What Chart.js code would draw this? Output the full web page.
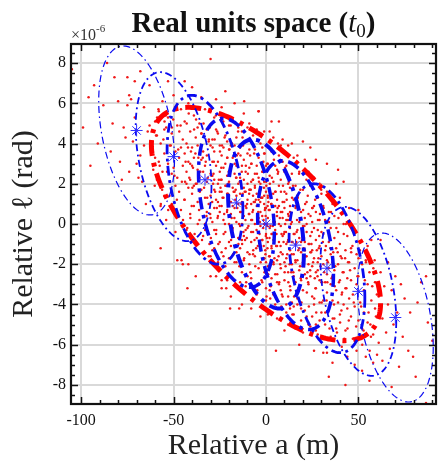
<!DOCTYPE html>
<html>
<head>
<meta charset="utf-8">
<script src="https://cdn.jsdelivr.net/npm/chart.js@4.4.1/dist/chart.umd.min.js"></script>
<style>
  html, body { margin: 0; padding: 0; background: #fff; }
  canvas { display: block; }
</style>
</head>
<body>
<canvas id="spaceChart" width="443" height="464"></canvas>
<script>
// tick labels
const aTicks = [-100, -50, 0, 50];
const lTicks = [-8, -6, -4, -2, 0, 2, 4, 6, 8];

// centres of the sub-ellipses (a in m, l in 1e-6 rad)
const centreA = [-70, -50, -33, -16, 0, 16, 33, 50, 70];
const centreL = [4.65, 3.35, 2.2, 1.05, 0, -1.05, -2.2, -3.35, -4.65];
// half extents and correlation of each sub-ellipse
const subHalfA = [20.5, 20.5, 20.5, 20.5, 20.5, 20.5, 20.5, 20.5, 20.5];
const subHalfL = [4.2, 4.2, 4.2, 4.2, 4.2, 4.2, 4.2, 4.2, 4.2];
const subRho = [-0.35, -0.35, -0.35, -0.35, -0.35, -0.35, -0.35, -0.35, -0.35];

// full uncertainty ellipse
const fullHalfA = 62;
const fullHalfL = 5.8;
const fullRho = -0.68;

// sampled particles [a, l], outer parts of the cloud
const particles = [
  [-105,7.7],[-99,4.8],[-96,6.3],[-93,6.9],[-95,2.9],[-91,4.0],
  [-88,5.9],[-86,8.0],[-84,3.6],[-82,7.3],[-80,6.1],[-77,4.8],[-76,4.3],[-78,2.2],[-75,7.3],[-83,5.0],[-79,3.1],[-75,5.9],
  [-74,6.4],[-73,6.2],[-72,4.1],[-71,5.3],[-70,3.0],[-69,2.3],[-68,3.4],[-67,2.1],[-66,5.8],[-65,1.0],[-64,4.6],[-63,6.9],
  [-62,3.8],[-61,2.7],[-60,5.1],[-71,7.1],[-66,3.9],[-63,4.9],[-74,2.6],[-68,7.6],
  [-59,4.4],[-59,2.2],[-58,5.6],[-58,3.1],[-57,0.9],[-57,4.0],[-56,6.1],[-56,2.6],[-55,3.5],[-55,1.4],[-54,4.8],[-54,0.2],
  [-53,3.0],[-53,5.3],[-52,2.1],[-52,3.9],[-51,1.0],[-51,4.5],[-50,2.8],[-50,6.4],[-49,3.6],[-49,-0.4],[-48,2.3],[-48,4.9],
  [-47,1.6],[-47,3.3],[-46,5.7],[-46,0.7],[-45,2.9],[-45,4.2],[-60,3.3],[-57,-1.2],[-53,7.1],[-48,-1.8],[-46,3.8],[-51,2.5],
  [-55,4.7],[-49,1.9],[-45.7,-1.8],[-45,-2.0],[-42.5,-3.2],
  [-44,3.5],[-44,1.2],[-44,5.1],[-43,2.6],[-43,-0.3],[-43,4.0],[-42,3.1],[-42,1.8],[-42,6.0],[-41,2.2],[-41,4.6],[-41,0.5],
  [-40,3.8],[-40,1.5],[-40,2.9],[-39,5.4],[-39,0.9],[-39,3.3],[-38,2.0],[-38,4.3],[-38,-1.0],[-37,2.7],[-37,1.1],[-37,3.9],
  [-36,5.0],[-36,2.3],[-36,0.2],[-35,3.2],[-35,1.7],[-35,4.5],[-34,2.6],[-34,-0.6],[-34,3.6],[-33,1.3],[-33,5.7],[-33,2.9],
  [-32,0.6],[-32,3.4],[-32,2.1],[-31,4.1],[-31,1.0],[-31,-1.6],[-30,2.5],[-30,3.9],[-30,0.3],[-44,7.1],[-40,6.8],[-30,8.2],
  [-38,-2.6],[-42,-2.0],[-35,6.3],[-30,5.6],[-43,2.0],[-37,4.8],[-33,0.0],[-41,3.0],[-39,1.9],[-36,3.5],[-32,4.7],[-30,1.4],
  [-29,2.4],[-29,0.1],[-29,4.2],[-29,-1.3],[-28,1.7],[-28,3.6],[-28,5.3],[-28,0.8],[-27,2.9],[-27,-0.5],[-27,1.2],[-27,4.7],
  [-26,2.0],[-26,3.1],[-26,-2.2],[-26,0.4],[-25,1.6],[-25,3.9],[-25,2.6],[-25,-0.9],[-24,0.9],[-24,2.2],[-24,5.8],[-24,3.4],
  [-23,1.3],[-23,-1.6],[-23,2.8],[-23,0.2],[-22,4.4],[-22,1.9],[-22,-0.4],[-22,3.0],[-21,0.7],[-21,2.4],[-21,-2.8],[-21,1.5],
  [-20,3.7],[-20,0.0],[-20,2.1],[-20,4.9],[-19,1.1],[-19,-1.1],[-19,2.7],[-19,0.5],[-18,3.3],[-18,1.8],[-18,-0.2],[-18,5.2],
  [-17,0.8],[-17,2.5],[-17,-1.9],[-17,3.9],[-16,1.4],[-16,0.1],[-16,2.9],[-16,4.3],[-15,-0.7],[-15,2.0],[-15,1.0],[-15,3.5],
  [-30,-2.6],[-27,6.2],[-24,-3.2],[-22,6.6],[-19,-3.6],[-17,6.0],[-28,2.2],[-26,1.1],[-25,0.6],[-23,3.8],[-21,3.3],[-20,1.4],
  [-18,0.9],[-16,2.3],[-29,3.1],[-26,4.5],[-20,-0.9],[-17,1.6],[-15,4.8],[-24,1.6],[-21,4.1],[-28,-0.3],[-19,3.9],[-16,-1.4],
  [-27,-2.6],[-24,-2.8],[-21.5,-3.2],[-19.4,-4.2],[-11.8,6.1],
  [-14,0.6],[-14,2.3],[-14,-1.2],[-14,3.8],[-14,1.5],[-13,0.0],[-13,2.9],[-13,-2.4],[-13,1.1],[-13,4.6],[-12,1.8],[-12,-0.6],
  [-12,3.2],[-12,0.4],[-12,-1.8],[-11,2.6],[-11,0.9],[-11,-3.1],[-11,1.6],[-11,4.1],[-10,-0.2],[-10,2.0],[-10,1.2],[-10,-1.4],
  [-10,3.5],[-9,0.5],[-9,2.8],[-9,-2.0],[-9,1.7],[-9,5.0],[-8,-0.9],[-8,1.0],[-8,3.0],[-8,0.2],[-8,-2.7],[-7,2.2],
  [-7,1.4],[-7,-0.4],[-7,4.4],[-7,0.7],[-6,-1.6],[-6,2.5],[-6,0.0],[-6,3.7],[-6,1.9],[-5,-3.5],[-5,0.9],[-5,2.9],
  [-5,-0.7],[-5,1.5],[-4,0.3],[-4,3.3],[-4,-2.2],[-4,1.2],[-4,5.6],[-3,2.0],[-3,-1.1],[-3,0.6],[-3,4.0],[-3,-0.1],
  [-2,1.3],[-2,-2.9],[-2,2.6],[-2,0.4],[-2,-0.8],[-1,3.5],[-1,1.0],[-1,-1.7],[-1,2.1],[-1,0.0],[0,-0.5],[0,1.6],
  [0,-3.8],[0,2.9],[0,0.8],[-12,5.5],[-8,-4.2],[-3,-4.6],[-10,4.8],[-5,4.7],[-14,-2.9],[-1,4.6],[-11,-0.3],[-9,3.7],
  [-7,-1.5],[-6,1.1],[-4,2.3],[-2,3.8],[-13,-0.8],[0,3.9],[-8,2.1],[-3,1.7],[-14.5,-4.2],[-13,-4.0],
  [1,-0.9],[1,1.4],[1,-2.3],[1,0.3],[1,3.0],[2,-1.6],[2,0.7],[2,2.4],[2,-3.3],[2,-0.2],[3,1.0],[3,-1.2],
  [3,3.6],[3,-0.5],[3,-2.7],[4,0.1],[4,2.1],[4,-1.9],[4,-0.8],[4,4.3],[5,-0.3],[5,1.6],[5,-2.5],[5,0.9],
  [5,-4.0],[6,-1.1],[6,2.7],[6,0.4],[6,-1.8],[6,1.2],[7,-3.0],[7,0.0],[7,1.9],[7,-0.9],[7,3.4],[8,-1.4],
  [8,0.6],[8,-2.2],[8,2.2],[8,-0.1],[9,1.1],[9,-3.6],[9,-0.6],[9,0.3],[9,3.1],[10,-1.9],[10,0.8],[10,-0.4],
  [10,2.6],[10,-2.8],[11,-1.0],[11,1.5],[11,-4.4],[11,0.2],[11,-1.7],[12,2.0],[12,-0.8],[12,0.5],[12,-2.4],[12,3.9],
  [13,-1.3],[13,0.9],[13,-3.1],[13,-0.2],[13,1.8],[14,-2.0],[14,0.1],[14,2.5],[14,-0.9],[14,-3.9],[15,-1.5],[15,1.2],
  [15,-0.5],[15,-2.6],[15,3.3],[2,4.6],[6,-4.7],[9,4.2],[12,-5.0],[4,-3.5],[7,5.1],[1,-4.5],[14,4.0],[3,5.1],
  [10,-5.3],[5,2.9],[8,3.9],[11,2.9],[13,-4.2],[0,-1.9],[6,-2.9],[10,1.6],[12,-3.6],[8,-3.3],[-4,5.6],[6.5,4.0],[5.4,-6.3],
  [16,-1.0],[16,0.8],[16,-2.9],[16,1.9],[17,-1.8],[17,-0.3],[17,-3.7],[17,1.4],[18,-0.7],[18,-2.3],[18,2.6],[18,0.1],
  [19,-1.4],[19,-4.2],[19,0.6],[19,-2.8],[20,-0.1],[20,-1.9],[20,1.7],[20,-3.3],[21,-0.9],[21,-2.5],[21,3.2],[21,0.3],
  [22,-1.6],[22,-4.6],[22,-0.4],[22,1.1],[23,-2.0],[23,0.5],[23,-3.0],[23,-1.0],[24,-2.6],[24,1.9],[24,-0.6],[24,-5.1],
  [25,-1.3],[25,0.8],[25,-3.6],[25,-2.1],[26,-0.2],[26,-1.7],[26,2.3],[26,-4.0],[27,-2.4],[27,-0.8],[27,0.6],[27,-3.2],
  [28,-1.9],[28,1.3],[28,-5.5],[28,-0.3],[29,-2.8],[29,-1.1],[29,0.2],[29,-3.9],[30,-1.6],[30,-0.4],[30,-4.4],[30,1.5],
  [21.5,3.1],[27,3.2],[16,-5.2],[18,-6.0],[24,3.8],[20,4.1],[26,-6.3],[17,3.4],[22,-2.7],[25,0.1],[19,-0.9],[23,2.6],
  [28,-2.3],[30,-2.9],[16,-1.9],[18,-1.2],[20,-5.4],[22,0.0],[24,-1.4],[26,0.9],[29,2.0],[21,-1.3],[27,-5.0],[15,-4.1],
  [31,-2.0],[31,-0.5],[31,-3.8],[31,0.9],[32,-2.9],[32,-1.3],[32,-5.0],[32,0.2],[33,-1.8],[33,-3.4],[33,1.6],[33,-2.5],
  [34,-0.9],[34,-4.3],[34,-2.2],[34,0.6],[35,-3.0],[35,-1.5],[35,-5.6],[35,-0.2],[36,-2.6],[36,1.0],[36,-3.8],[36,-1.9],
  [37,-0.7],[37,-4.7],[37,-2.3],[37,0.4],[38,-3.3],[38,-1.2],[38,2.0],[38,-5.2],[39,-2.0],[39,-0.4],[39,-3.9],[40,-2.8],
  [40,-1.0],[40,1.3],[40,-4.5],[41,-3.5],[41,-1.7],[41,-6.1],[42,-2.4],[42,0.0],[42,-4.0],[43,-1.3],[43,-3.2],[43,-5.3],
  [44,-2.7],[44,-0.6],[44,-4.2],[45,-1.9],[45,-3.7],[45,0.8],[33,3.0],[39,2.7],[36,-6.9],[42,2.1],[31,-6.4],[44,-6.6],
  [34,-7.6],[43,-8.0],[33,-6.4],
  [46,-2.8],[46,-4.6],[46,-1.2],[47,-3.5],[47,-0.3],[47,-5.7],[48,-2.2],[48,-4.1],[49,-3.0],[49,-6.3],[49,-1.5],[50,-2.6],
  [50,-4.8],[51,-3.9],[51,-0.9],[52,-2.0],[52,-5.2],[53,-3.3],[53,-4.4],[54,-1.8],[54,-6.6],[55,-3.0],[55,-4.9],[56,-2.4],
  [57,-3.8],[57,-0.8],[58,-5.5],[59,-2.9],[59,-4.2],[60,-3.5],[52,-7.3],[56,-7.8],[48,-7.0],[50,0.7],[55,-1.1],[58,-6.9],
  [56.5,-5.0],
  [61,-3.6],[61,-5.9],[62,-2.4],[63,-4.7],[63,-6.8],[64,-3.1],[65,-5.4],[66,-1.9],[66,-4.0],[67,-6.2],[68,-3.3],[69,-5.0],
  [70,-2.6],[71,-4.4],[72,-7.1],[73,-3.0],[74,-5.6],[75,-3.7],[62,-0.8],[68,-8.1],
  [77,-6.3],[79.6,-6.6],[81,-7.6],[84,-2.9],[86.6,-2.6],[87.6,-4.9],[78,-4.4],[86.6,-8.9],[90,-5.8],[82,-3.9]
];

// denser inner part of the cloud
const particlesCore = [
  [-59.5,4.4],[-60.2,1.9],[-58.9,5.3],[-57.5,2.9],[-58.2,5.7],[-56.9,1.0],[-55.5,4.2],[-56.2,1.7],[-54.9,5.1],
  [-53.5,2.6],[-54.2,5.4],[-52.9,0.7],[-51.5,3.9],[-52.2,1.4],[-50.9,4.8],[-49.5,2.4],[-50.2,5.2],[-48.9,0.5],
  [-47.5,3.7],[-48.2,1.2],[-46.9,4.6],[-45.5,2.1],[-46.2,4.9],[-44.9,0.2],
  [45.5,-2.3],[44.8,-4.8],[46.1,-1.4],[47.5,-3.9],[46.8,-1.1],[48.1,-5.8],[49.5,-2.6],[48.8,-5.1],[50.1,-1.7],
  [51.5,-4.1],[50.8,-1.3],[52.1,-6.0],[53.5,-2.8],[52.8,-5.3],[54.1,-1.9],[55.5,-4.4],[54.8,-1.6],[56.1,-6.3],
  [57.5,-3.1],[56.8,-5.6],[58.1,-2.2],[59.5,-4.6],[58.8,-1.8],[60.1,-6.5],
  [-43.5,3.1],[-44.2,1.2],[-42.9,5.0],[-43.8,2.1],[-42.6,-0.2],[-41.5,2.3],[-42.2,3.8],[-40.9,0.3],[-41.8,5.5],[-40.6,3.6],
  [-39.5,2.8],[-40.2,0.9],[-38.9,4.7],[-39.8,1.8],[-38.6,-0.5],[-37.5,2.0],[-38.2,3.5],[-36.9,0.0],[-37.8,5.2],[-36.6,3.3],
  [-35.5,2.6],[-36.2,0.7],[-34.9,4.5],[-35.8,1.6],[-34.6,-0.8],[-33.5,1.8],[-34.2,3.3],[-32.9,-0.3],[-33.8,5.0],[-32.6,3.1],
  [-31.5,2.3],[-32.2,0.4],[-30.9,4.2],[-31.8,1.3],[-30.6,-1.0],
  [31.5,-2.4],[30.8,-0.9],[32.1,-4.4],[31.2,0.8],[32.4,-1.1],[33.5,-1.9],[32.8,-3.8],[34.1,0.1],[33.2,-2.9],[34.4,-5.2],
  [35.5,-2.7],[34.8,-1.2],[36.1,-4.7],[35.2,0.6],[36.4,-1.4],[37.5,-2.1],[36.8,-4.0],[38.1,-0.2],[37.2,-3.1],[38.4,-5.4],
  [39.5,-2.9],[38.8,-1.4],[40.1,-4.9],[39.2,0.3],[40.4,-1.6],[41.5,-2.4],[40.8,-4.3],[42.1,-0.5],[41.2,-3.4],[42.4,-5.7],
  [43.5,-3.2],[42.8,-1.7],[44.1,-5.2],[43.2,0.0],[44.4,-1.9],
  [-29.5,2.4],[-30.2,0.5],[-28.9,3.8],[-29.8,-0.7],[-28.6,2.0],[-30.4,4.8],[-29.1,1.1],[-30.0,-1.6],
  [-27.5,1.6],[-28.2,3.1],[-26.9,-0.3],[-27.8,4.2],[-26.6,0.8],[-28.4,2.5],[-27.1,5.4],[-28.0,-1.2],
  [-25.5,2.2],[-26.2,0.3],[-24.9,3.6],[-25.8,-1.0],[-24.6,1.8],[-26.4,4.6],[-25.1,0.9],[-26.0,-1.9],
  [-23.5,1.3],[-24.2,2.8],[-22.9,-0.5],[-23.8,3.9],[-22.6,0.5],[-24.4,2.2],[-23.1,5.1],[-24.0,-1.4],
  [-21.5,1.9],[-22.2,0.0],[-20.9,3.3],[-21.8,-1.2],[-20.6,1.5],[-22.4,4.3],[-21.1,0.6],[-22.0,-2.1],
  [-19.5,1.1],[-20.2,2.6],[-18.9,-0.8],[-19.8,3.7],[-18.6,0.3],[-20.4,2.0],[-19.1,4.9],[-20.0,-1.7],
  [-17.5,1.6],[-18.2,-0.3],[-16.9,3.0],[-17.8,-1.5],[-16.6,1.2],[-18.4,4.0],[-17.1,0.3],[-18.0,-2.4],
  [-15.5,0.8],[-16.2,2.3],[-14.9,-1.0],[-15.8,3.4],[-14.6,0.0],[-16.4,1.7],[-15.1,4.6],[-16.0,-1.9],
  [15.5,-0.5],[14.8,-2.4],[16.1,0.9],[15.2,-3.6],[16.4,-0.9],[14.6,1.9],[15.9,-1.8],[15.0,-4.5],
  [17.5,-1.3],[16.8,0.2],[18.1,-3.1],[17.2,1.3],[18.4,-2.1],[16.6,-0.4],[17.9,2.5],[17.0,-4.0],
  [19.5,-0.8],[18.8,-2.7],[20.1,0.7],[19.2,-3.9],[20.4,-1.2],[18.6,1.7],[19.9,-2.1],[19.0,-4.8],
  [21.5,-1.6],[20.8,-0.1],[22.1,-3.4],[21.2,1.0],[22.4,-2.4],[20.6,-0.7],[21.9,2.2],[21.0,-4.3],
  [23.5,-1.0],[22.8,-2.9],[24.1,0.4],[23.2,-4.1],[24.4,-1.4],[22.6,1.4],[23.9,-2.3],[23.0,-5.0],
  [25.5,-1.9],[24.8,-0.4],[26.1,-3.7],[25.2,0.8],[26.4,-2.7],[24.6,-1.0],[25.9,2.0],[25.0,-4.6],
  [27.5,-1.3],[26.8,-3.2],[28.1,0.2],[27.2,-4.4],[28.4,-1.7],[26.6,1.2],[27.9,-2.6],[27.0,-5.3],
  [29.5,-2.1],[28.8,-0.6],[30.1,-3.9],[29.2,0.5],[30.4,-2.9],[28.6,-1.2],[29.9,1.7],[29.0,-4.8],
  [-13.5,0.6],[-14.2,2.1],[-12.9,-1.0],[-13.8,3.4],[-12.6,1.5],[-14.4,-2.1],[-13.1,2.6],[-14.0,-0.1],[-12.7,4.3],[-13.3,1.0],
  [-11.5,1.6],[-12.2,-0.4],[-10.9,2.9],[-11.8,-1.7],[-10.6,0.8],[-12.4,3.9],[-11.1,0.2],[-12.0,2.2],[-10.7,-2.9],[-11.3,-0.8],
  [-9.5,-0.1],[-10.2,1.0],[-8.9,-1.5],[-9.8,2.5],[-8.6,3.4],[-10.4,-0.7],[-9.1,1.5],[-10.0,-2.6],[-8.7,1.7],[-9.3,0.5],
  [-7.5,0.2],[-8.2,1.7],[-6.9,-1.3],[-7.8,3.0],[-6.6,1.1],[-8.4,-2.4],[-7.1,2.2],[-8.0,-0.4],[-6.7,3.9],[-7.3,0.6],
  [-5.5,1.2],[-6.2,-0.8],[-4.9,2.5],[-5.8,-2.1],[-4.6,0.4],[-6.4,3.5],[-5.1,-0.3],[-6.0,1.8],[-4.7,-3.3],[-5.3,-1.2],
  [-3.5,-0.5],[-4.2,0.6],[-2.9,-1.9],[-3.8,2.1],[-2.6,3.0],[-4.4,-1.1],[-3.1,1.1],[-4.0,-3.0],[-2.7,1.3],[-3.3,0.1],
  [-1.5,-0.2],[-2.2,1.3],[-0.9,-1.7],[-1.8,2.6],[-0.6,0.7],[-2.4,-2.8],[-1.1,1.8],[-2.0,-0.8],[-0.7,3.5],[-1.3,0.2],
  [-0.5,0.8],[-1.2,-1.1],[0.1,2.1],[-0.8,-2.4],[0.4,0.0],[-1.4,3.1],[-0.1,-0.6],[-1.0,1.4],[0.3,-3.6],[-0.3,-1.5],
  [0.5,-0.7],[-0.2,0.4],[1.1,-2.1],[0.2,1.9],[1.4,2.8],[-0.4,-1.3],[0.9,0.9],[0.0,-3.2],[1.3,1.1],[0.7,-0.1],
  [1.5,0.7],[0.8,-1.2],[2.1,2.0],[1.2,-2.5],[2.4,-0.1],[0.6,3.0],[1.9,-0.7],[1.0,1.3],[2.3,-3.7],[1.7,-1.6],
  [3.5,-0.5],[2.8,1.0],[4.1,-2.0],[3.2,2.3],[4.4,0.4],[2.6,-3.1],[3.9,1.5],[3.0,-1.1],[4.3,3.2],[3.7,-0.1],
  [5.5,-1.1],[4.8,0.1],[6.1,-2.5],[5.2,1.6],[6.4,2.5],[4.6,-1.7],[5.9,0.6],[5.0,-3.6],[6.3,0.8],[5.7,-0.5],
  [7.5,0.3],[6.8,-1.6],[8.1,1.6],[7.2,-2.9],[8.4,-0.5],[6.6,2.6],[7.9,-1.1],[7.0,0.9],[8.3,-4.1],[7.7,-2.0],
  [9.5,-0.9],[8.8,0.6],[10.1,-2.4],[9.2,1.9],[10.4,0.0],[8.6,-3.5],[9.9,1.1],[9.0,-1.5],[10.3,2.8],[9.7,-0.5],
  [11.5,-1.5],[10.8,-0.4],[12.1,-2.9],[11.2,1.2],[12.4,2.1],[10.6,-2.1],[11.9,0.2],[11.0,-4.0],[12.3,0.4],[11.7,-0.9],
  [13.5,0.0],[12.8,-2.0],[14.1,1.3],[13.2,-3.3],[14.4,-0.9],[12.6,2.3],[13.9,-1.5],[13.0,0.6],[14.3,-4.5],[13.7,-2.4]
];

// line widths of the sub-ellipses, thicker towards the middle
const subWidths = [1.2, 1.8, 2.8, 3.5, 4, 3.5, 2.8, 1.8, 1.2];

function ellipse(ca, cl, halfA, halfL, rho) {
  const pts = [];
  const k = Math.sqrt(1 - rho * rho);
  for (let i = 0; i <= 240; i++) {
    const t = i / 240 * 2 * Math.PI;
    pts.push({ x: ca + halfA * Math.cos(t), y: cl + halfL * (rho * Math.cos(t) - k * Math.sin(t)) });
  }
  return pts;
}

function dashDot(w) {
  return [Math.max(7, 3.5 * w), Math.max(3.5, 1.6 * w), Math.max(1.5, w), Math.max(3.5, 1.6 * w)];
}

const datasets = [];

// centre markers on top
datasets.push({
  label: 'centres',
  data: centreA.map((a, i) => ({ x: a, y: centreL[i] })),
  pointStyle: 'star',
  pointRadius: 6,
  borderColor: '#2b2bff',
  borderWidth: 1,
  showLine: false
});

centreA.forEach((a, i) => {
  datasets.push({
    label: 'sub ' + i,
    data: ellipse(a, centreL[i], subHalfA[i], subHalfL[i], subRho[i]),
    showLine: true,
    pointRadius: 0,
    borderColor: '#0a0af0',
    borderWidth: subWidths[i],
    borderDash: dashDot(subWidths[i]),
    fill: false,
    tension: 0
  });
});

datasets.push({
  label: 'full',
  data: ellipse(0, 0, fullHalfA, fullHalfL, fullRho),
  showLine: true,
  pointRadius: 0,
  borderColor: '#ff0000',
  borderWidth: 5,
  borderDash: [16, 7, 4, 7],
  fill: false,
  tension: 0
});

datasets.push({
  label: 'particles',
  data: particles.concat(particlesCore).map(p => ({ x: p[0], y: p[1] })),
  pointRadius: 1.25,
  pointStyle: 'circle',
  backgroundColor: '#f01818',
  borderWidth: 0,
  showLine: false
});

const serif = '"Liberation Serif", "Times New Roman", serif';

// frame, inward ticks, title and exponent
const frame = {
  id: 'frame',
  afterDraw(chart) {
    const { ctx, chartArea: c, scales: { x, y } } = chart;
    ctx.save();
    ctx.strokeStyle = '#111';
    ctx.lineWidth = 1.5;
    ctx.beginPath();
    for (let v = -100; v <= 90; v += 10) {
      const px = Math.round(x.getPixelForValue(v)) + 0.5;
      const len = v % 50 === 0 ? 7 : 4;
      ctx.moveTo(px, c.bottom); ctx.lineTo(px, c.bottom - len);
      ctx.moveTo(px, c.top); ctx.lineTo(px, c.top + len);
    }
    for (let v = -8.5; v <= 8.5; v += 0.5) {
      const py = Math.round(y.getPixelForValue(v)) + 0.5;
      const len = v % 2 === 0 ? 7 : 4;
      ctx.moveTo(c.left, py); ctx.lineTo(c.left + len, py);
      ctx.moveTo(c.right, py); ctx.lineTo(c.right - len, py);
    }
    ctx.stroke();
    ctx.lineWidth = 2.2;
    ctx.strokeRect(c.left, c.top, c.right - c.left, c.bottom - c.top);

    // title with italic t and subscript 0
    const parts = [
      { t: 'Real units space (', f: 'bold 29px ' + serif, dy: 0 },
      { t: 't', f: 'italic 29px ' + serif, dy: 0 },
      { t: '0', f: '19px ' + serif, dy: 5 },
      { t: ')', f: 'bold 29px ' + serif, dy: 0 }
    ];
    let total = 0;
    parts.forEach(p => { ctx.font = p.f; p.w = ctx.measureText(p.t).width; total += p.w; });
    let tx = (c.left + c.right) / 2 - total / 2;
    ctx.fillStyle = '#111';
    ctx.textBaseline = 'alphabetic';
    ctx.textAlign = 'left';
    parts.forEach(p => { ctx.font = p.f; ctx.fillText(p.t, tx, 32 + p.dy); tx += p.w; });

    // exponent of the l axis
    ctx.fillStyle = '#333';
    ctx.font = '16px ' + serif;
    ctx.fillText('\u00d710', 71, 40);
    ctx.font = '11px ' + serif;
    ctx.fillText('-6', 96, 32);
    ctx.restore();
  }
};

Chart.defaults.font.family = serif;
Chart.defaults.color = '#111';

new Chart(document.getElementById('spaceChart'), {
  type: 'scatter',
  data: { datasets },
  options: {
    responsive: false,
    animation: false,
    events: [],
    layout: { padding: { top: 44, right: 5, left: 0, bottom: 0 } },
    plugins: { legend: { display: false }, tooltip: { enabled: false } },
    scales: {
      x: {
        min: -105.5,
        max: 92,
        afterBuildTicks: s => { s.ticks = aTicks.map(v => ({ value: v })); },
        afterFit: s => { s.height = 60; },
        ticks: { padding: 7, font: { size: 16 }, color: '#111' },
        grid: { color: '#d9d9d9', lineWidth: 2, drawTicks: false },
        border: { display: false },
        title: { display: true, text: 'Relative a (m)', font: { size: 30 }, color: '#222', padding: { bottom: 0, top: 0 } }
      },
      y: {
        min: -8.95,
        max: 8.95,
        afterBuildTicks: s => { s.ticks = lTicks.map(v => ({ value: v })); },
        afterFit: s => { s.width = 71; },
        ticks: { padding: 5, font: { size: 16 }, color: '#111' },
        grid: { color: '#d9d9d9', lineWidth: 2, drawTicks: false },
        border: { display: false },
        title: { display: true, text: 'Relative \u2113 (rad)', font: { size: 30 }, color: '#222', padding: { top: 6, bottom: 0 } }
      }
    }
  },
  plugins: [frame]
});
</script>
</body>
</html>
